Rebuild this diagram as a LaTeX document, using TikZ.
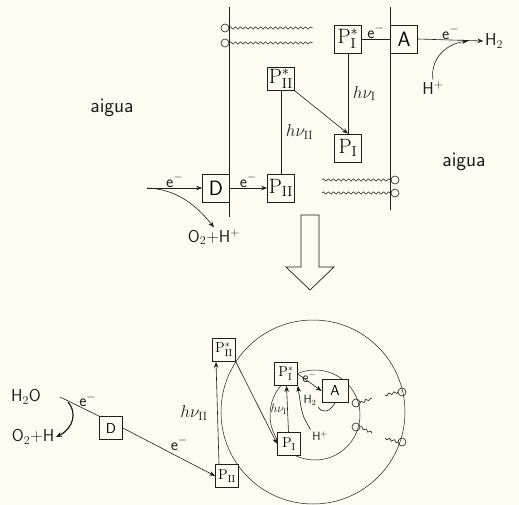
\documentclass[tikz,border=0pt]{standalone}
\usepackage{amsmath}
\usetikzlibrary{arrows.meta,positioning,calc,decorations.pathmorphing}
\definecolor{phInk}  {HTML}{1E1E1E}
\definecolor{phPaper}{HTML}{FCFCF3}
\newcommand{\pigI}{$\mathrm{P}_{\mathrm{I}}$}
\newcommand{\pigII}{$\mathrm{P}_{\mathrm{II}}$}
\newcommand{\pigIs}{$\mathrm{P}^{*}_{\mathrm{I}}$}
\newcommand{\pigIIs}{$\mathrm{P}^{*}_{\mathrm{II}}$}
\tikzset{
  pigBox/.style={draw=phInk,fill=phPaper,line width=0.7pt,inner sep=0pt,
                 minimum width=27pt,minimum height=28pt,font=\sffamily\huge},
  smallBox/.style={pigBox,minimum width=23pt,minimum height=23pt,font=\sffamily\Large},
  lbl/.style={font=\sffamily\LARGE,inner sep=1.5pt,text=phInk},
  wave/.style={decorate,decoration={snake,amplitude=1.2pt,segment length=5pt},line width=0.5pt},
  tail/.style={decorate,decoration={snake,amplitude=1.2pt,segment length=5pt},line width=0.6pt},
  hollowArrow/.style={draw=phInk,fill=phPaper,line width=0.7pt}
}
\begin{document}
\begin{tikzpicture}[x=1pt,y=-1pt,line width=0.6pt,draw=phInk,
                    >={Stealth[length=6pt,width=4.5pt]}]
\fill[phPaper] (0,0) rectangle (519,505);
\useasboundingbox (0,0) rectangle (519,505);

% --- membrana (dalt) ---
\draw (229,7) -- (229,217);
\draw (390,7) -- (390,210);
\foreach \y in {28,43} {
  \draw (225,\y) circle (4pt);
  \draw[wave] (229,\y) -- (313,\y);
}
\foreach \y in {180,193} {
  \draw[wave] (322,\y) -- (391,\y);
  \draw (395,\y) circle (4pt);
}

\node[pigBox] (P1s) at (348,39) {\pigIs};
\node[pigBox] (A)   at (404,39) {A};
\node[pigBox,minimum height=23pt] (P2s) at (281,79) {\pigIIs};
\node[pigBox] (P1)  at (348,148) {\pigI};
\node[pigBox] (P2)  at (281,188) {\pigII};
\node[pigBox] (D)   at (216,188) {D};

\node[lbl,font=\sffamily\huge] (aiguaL) at (112,108) {aigua};
\node[lbl,font=\sffamily\huge] (aiguaR) at (464,162) {aigua};
\node[lbl] (H2top)  at (494,41) {H$_2$};
\node[lbl] (Hptop) at (433,88) {H$^+$};
\node[lbl] (O2top) at (214,237) {O$_2$+H$^+$};

\draw (P1s.east) -- node[lbl,above=-1pt] {e$^-$} (A.west);
\draw[->] (A.east) -- node[lbl,above=-1pt] {e$^-$} (H2top.west);
\coordinate (hpEnd) at (468,41);
\draw[->] (Hptop.north) .. controls (430,60) and (445,44) .. (hpEnd);
\draw (P1s) -- node[lbl,right=3pt] {$h\nu_{\mathrm{I}}$} (P1);
\draw[->] (P2s.south east) -- (P1.north);
\draw (P2s) -- node[lbl,right=3pt] {$h\nu_{\mathrm{II}}$} (P2);
\draw[->] (D) -- node[lbl,above=-1pt] {e$^-$} (P2);
\coordinate (eIn) at (147,188);
\draw[->] (eIn) -- node[lbl,above=-1pt] {e$^-$} (D);
\draw[->] (eIn) .. controls (172,189) and (192,200) .. (O2top.north);

% --- fletxa gran ---
\draw[hollowArrow] (301,215) -- (319,215) -- (319,267) -- (334,267)
  -- (310,290) -- (286,267) -- (301,267) -- cycle;

% --- vesicula (baix) ---
\draw[line width=0.5pt] (313,412) circle (92pt);
\draw[line width=0.5pt] (315,415) circle (45pt);
\foreach \hy/\ty in {403/398,427/433} {
  \draw (356,\hy) circle (4pt);
  \draw[tail] (360,\hy) -- (372,\ty);
}
\foreach \hy/\ty in {392/395,442/438} {
  \draw (402,\hy) circle (4pt);
  \draw[tail] (398,\hy) -- (385,\ty);
}

\node[smallBox] (Db)   at (111,428) {D};
\node[smallBox] (P2sb) at (224,350) {\pigIIs};
\node[smallBox] (P2b)  at (227,476) {\pigII};
\node[smallBox] (P1sb) at (286,374) {\pigIs};
\node[smallBox,minimum width=26pt] (Ab) at (335,391) {A};
\node[smallBox] (P1b)  at (289,444) {\pigI};

\node[lbl] (h2oB) at (26,397) {H$_2$O};
\node[lbl] (o2B)  at (33,437) {O$_2$+H};
\node[lbl,font=\sffamily\large] (H2b)  at (310,400) {H$_2$};
\node[lbl,font=\sffamily\large] (Hpb)  at (320,436) {H$^+$};

\coordinate (wSplit) at (60,397);
\coordinate (wBend)  at (68,402);
\draw (wSplit) -- node[lbl,above right=-3pt] {e$^-$} (Db.north west);
\draw[-{Stealth[length=6pt,width=5pt]},line width=1.2pt] (wBend)
  .. controls (77,412) and (74,428) .. (o2B.east);
\draw[->] (Db.east) -- node[lbl,above right=0pt] {e$^-$} (P2b.west);
\draw[->] ([xshift=-8pt]P2b.north) -- node[lbl,left=8pt] {$h\nu_{\mathrm{II}}$} ([xshift=-8pt]P2sb.south);
\draw[->] (P2sb.south east) -- (P1b.west);
\draw[->] (P1sb.east) -- node[lbl,above=-2pt,font=\sffamily\Large] {e$^-$} (Ab.west);
\draw[->] (P1b) -- node[lbl,left=-1pt,font=\large] {$h\nu_{\mathrm{I}}$} (P1sb);
\draw[->] (Hpb.north west) .. controls (302,415) .. (P1sb.south east);
\draw (Ab.south) .. controls (330,412) and (322,414) .. (H2b.south east);
\end{tikzpicture}
\end{document}
